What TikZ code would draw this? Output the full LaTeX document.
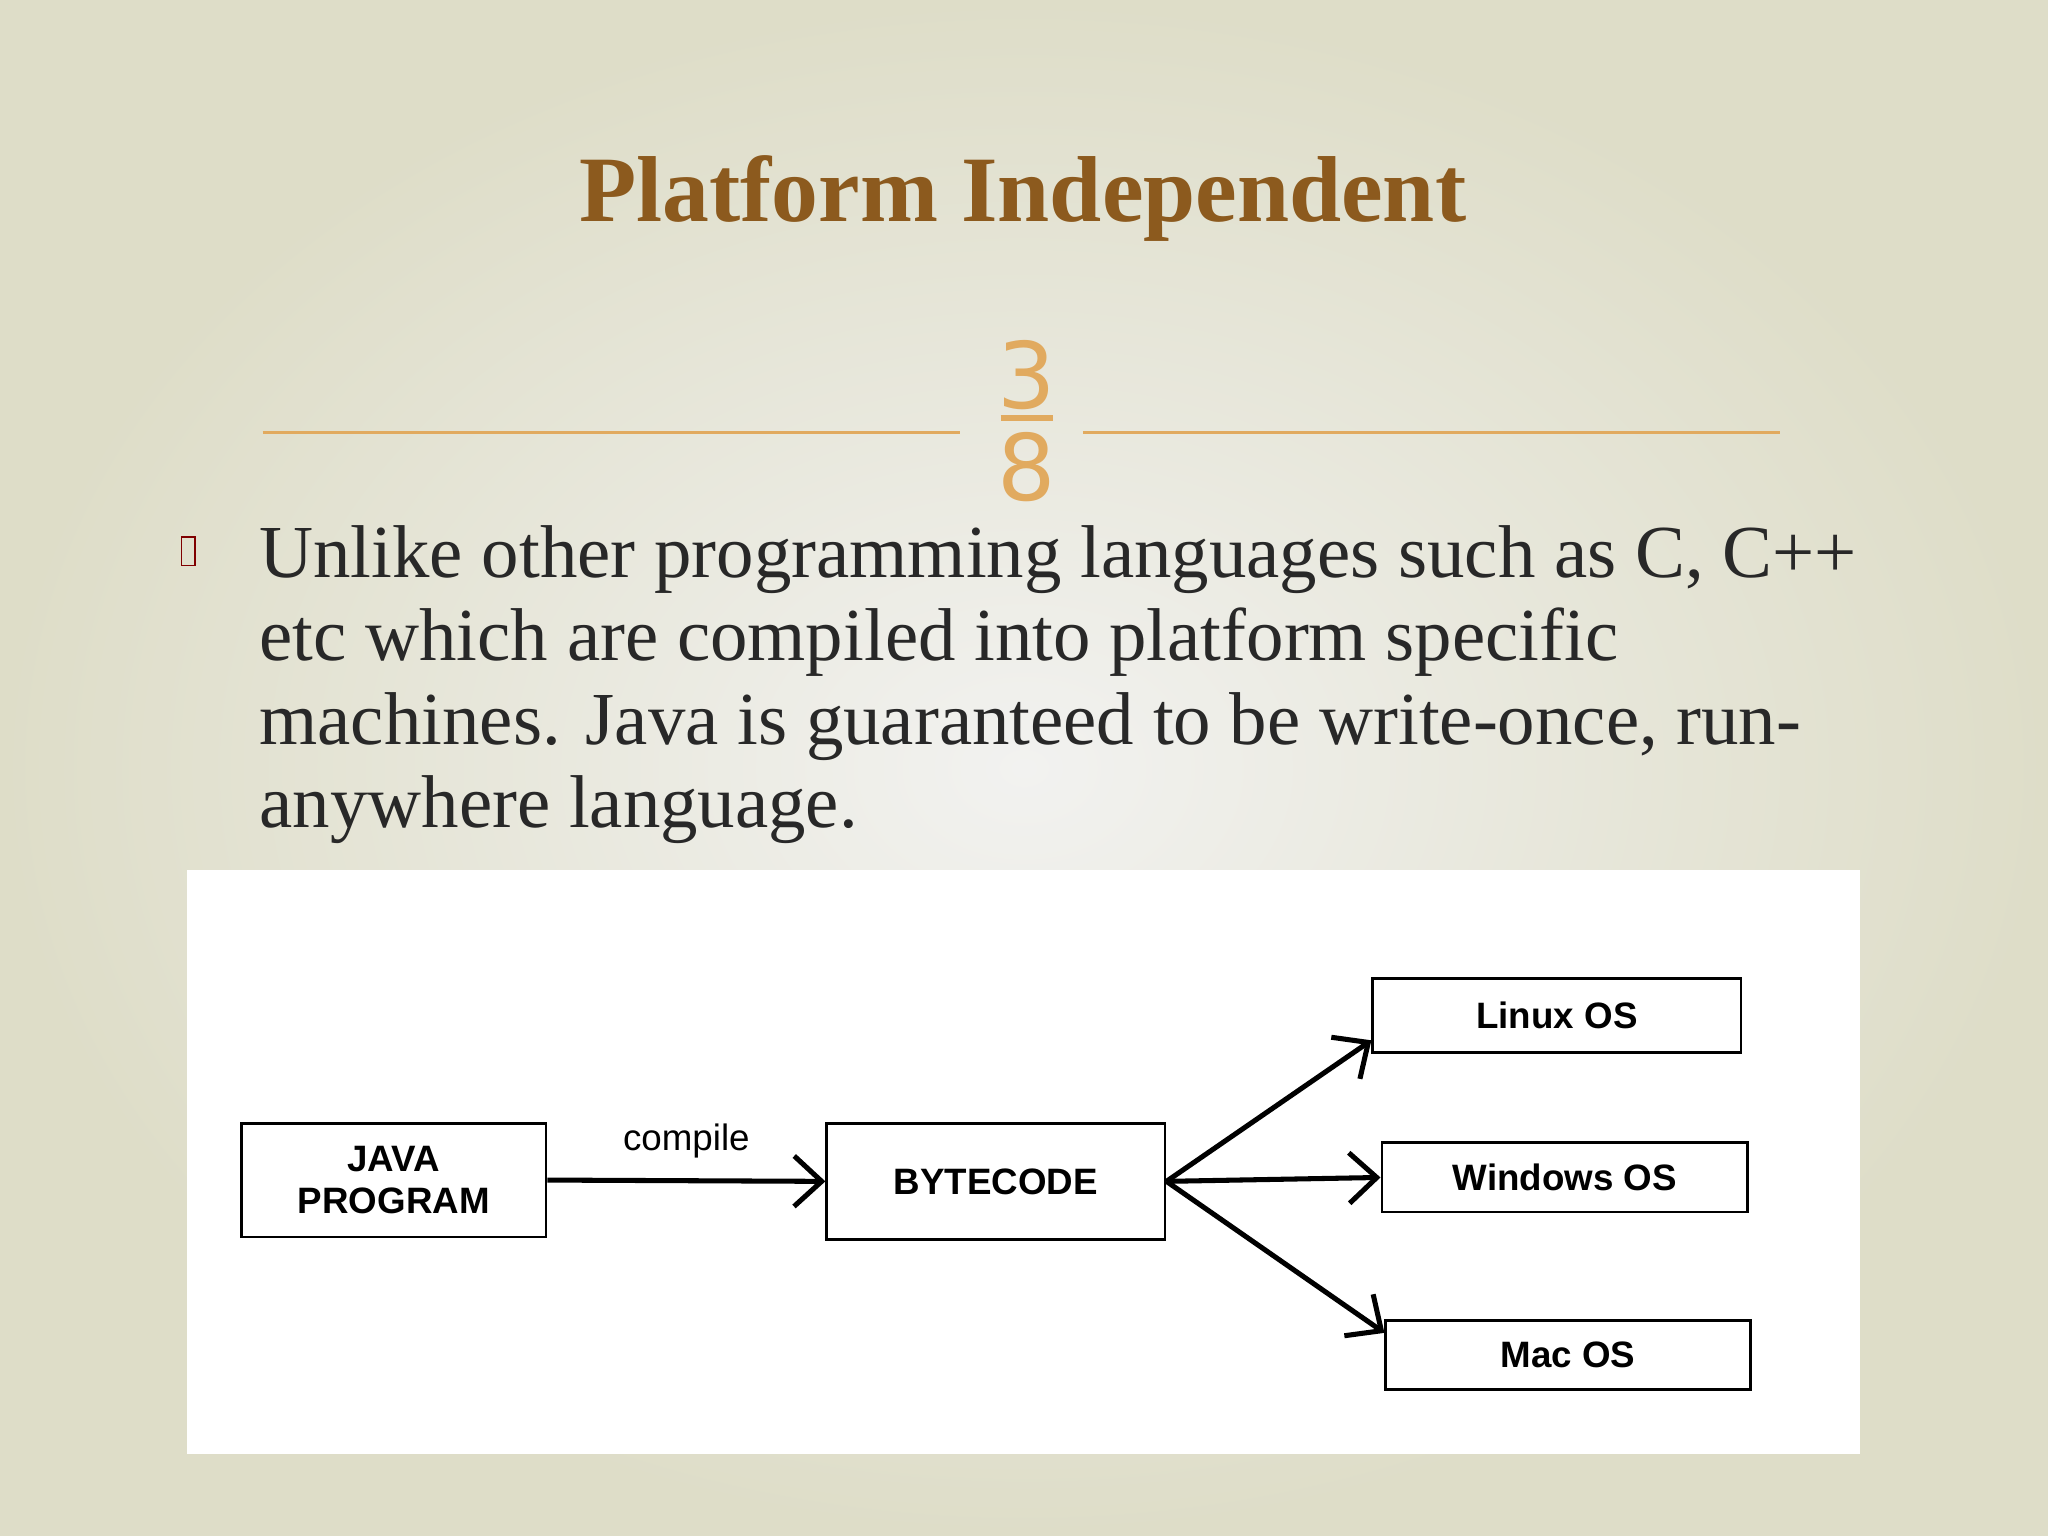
\documentclass[tikz,border=0pt]{standalone}
\usepackage{fontspec}
\setmainfont{Liberation Serif}
\newfontfamily\boxfont{Liberation Sans}
\newfontfamily\numfont{DejaVu Sans}
\usetikzlibrary{arrows.meta,positioning}
\definecolor{titlebrown}{RGB}{140,90,30}
\definecolor{ruleorange}{RGB}{225,170,95}
\definecolor{bgout}{RGB}{222,221,200}
\definecolor{bgin}{RGB}{242,242,240}
\definecolor{bodytext}{RGB}{40,40,40}
\tikzset{
  osbox/.style={draw=black, line width=0.6pt, fill=white, font=\boxfont\bfseries\fontsize{8}{9}\selectfont, align=center, inner sep=0pt},
  flow/.style={-{Straight Barb[length=6pt,width=11pt]}, line width=1.1pt},
}
\begin{document}
\begin{tikzpicture}
\useasboundingbox (0,0) rectangle (15.68,11.76);
\shade[inner color=bgin, outer color=bgout] (0,0) rectangle (15.68,11.76);

\node[font=\fontsize{20.4}{24}\selectfont\bfseries, text=titlebrown] (title) at (7.83,10.24) {Platform Independent};

% page number
\draw[ruleorange, line width=0.6pt] (2.01,8.45) -- (7.35,8.45);
\draw[ruleorange, line width=0.6pt] (8.29,8.45) -- (13.63,8.45);
\node[font=\numfont\fontsize{20}{20}\selectfont, text=ruleorange] (num) at (7.86,8.89) {3};
\node[font=\numfont\fontsize{20}{20}\selectfont, text=ruleorange] (den) at (7.86,8.18) {8};
\draw[ruleorange, line width=1.2pt] (7.66,8.56) -- (8.06,8.56);

% bullet text
\node[draw=red!50!black, line width=0.4pt, minimum width=0.1cm, minimum height=0.22cm, inner sep=0pt] (bullet) at (1.44,7.54) {};
\node[anchor=north west, align=left, font=\fontsize{16.3}{18.1}\selectfont, text=bodytext, inner sep=0pt] (body) at (1.98,7.74)
{Unlike other programming languages such as C, C++\\
etc which are compiled into platform specific\\
machines. Java is guaranteed to be write-once, run-\\
anywhere language.};

% diagram panel
\fill[white] (1.43,0.63) rectangle (14.24,5.10);

\node[osbox, minimum width=2.33cm, minimum height=0.87cm] (java) at (3.015,2.725) {JAVA\\PROGRAM};
\node[osbox, minimum width=2.59cm, minimum height=0.89cm] (byte) at (7.625,2.715) {BYTECODE};
\node[osbox, minimum width=2.82cm, minimum height=0.57cm] (linux) at (11.92,3.985) {Linux OS};
\node[osbox, minimum width=2.80cm, minimum height=0.53cm] (win) at (11.98,2.745) {Windows OS};
\node[osbox, minimum width=2.79cm, minimum height=0.53cm] (mac) at (12.005,1.385) {Mac OS};

\draw[flow] (java.east) -- node[above=1pt, font=\boxfont\fontsize{8}{9}\selectfont] {compile} (byte.west);
\draw[flow] (byte.east) -- ([yshift=3pt]linux.south west);
\draw[flow] (byte.east) -- (win.west);
\draw[flow] (byte.east) -- ([yshift=-3pt]mac.north west);
\end{tikzpicture}
\end{document}
